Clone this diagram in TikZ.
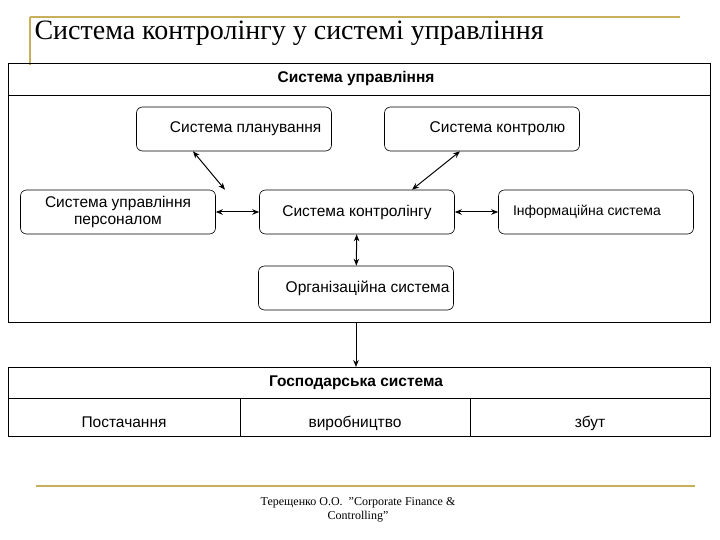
\documentclass[tikz,border=0pt]{standalone}
\usepackage{fontspec}
\setmainfont{Liberation Serif}
\newfontfamily\sansf{Liberation Sans}
\usepackage{xcolor}
\usetikzlibrary{arrows,arrows.meta,positioning,calc}
\definecolor{gold}{RGB}{200,175,90}
\tikzset{
  sys/.style={draw, rounded corners=6pt, line width=0.6pt, minimum width=195pt, minimum height=44pt, font=\sansf\fontsize{15.5}{17}\selectfont, align=center, inner sep=0pt},
  frame/.style={draw, line width=0.8pt},
  tip/.style={Stealth[length=7pt,width=5.5pt]},
  link/.style={line width=1pt, {Stealth[length=7pt,width=5.5pt]}-{Stealth[length=7pt,width=5.5pt]}},
  cell/.style={font=\sansf\fontsize{15.5}{17}\selectfont, anchor=base},
}
\begin{document}
\begin{tikzpicture}[x=1pt,y=-1pt]
    \useasboundingbox (0,0) rectangle (720,540);
    % title with gold rules
    \draw[gold, line width=1.5pt] (30,17) -- (680,17);
    \draw[gold, line width=1.5pt] (30,17) -- (30,65);
    \node[anchor=west, font=\fontsize{28}{30}\selectfont] (title) at (31,33) {Система контролінгу у системі управління};

    % management system frame
    \node[frame, minimum width=702pt, minimum height=259pt, anchor=north west] (mgmt) at (8,63) {};
    \draw[line width=0.8pt] (8,95) -- (710,95);
    \node[font=\sansf\bfseries\fontsize{15.5}{17}\selectfont] (mgmtT) at (356,78) {Система управління};

    \node[sys] (plan) at (234,129) {\hspace*{1.5em}Система планування};
    \node[sys] (ctrl) at (482,129) {\hspace*{2em}Система контролю};
    \node[sys] (pers) at (118,212) {Система управління\\персоналом};
    \node[sys] (cont) at (357,212) {Система контролінгу};
    \node[sys, font=\sansf\fontsize{14}{16}\selectfont] (info) at (596,212) {Інформаційна система\hspace*{1.3em}};
    \node[sys] (org) at (356,288) {\hspace*{1.5em}Організаційна система};

    \draw[link] ([xshift=-41pt]plan.south) -- ([xshift=-132pt]cont.north);
    \draw[link] ([xshift=-22pt]ctrl.south) -- ([xshift=55pt]cont.north);
    \draw[link] (pers) -- (cont);
    \draw[link] (cont) -- (info);
    \draw[link] (cont) -- (org);

    % economic system table
    \node[frame, minimum width=702pt, minimum height=69pt, anchor=north west] (econ) at (8,367) {};
    \draw[line width=0.8pt] (8,398) -- (710,398);
    \draw[line width=0.8pt] (240,398) -- (240,436);
    \draw[line width=0.8pt] (470,398) -- (470,436);
    \node[font=\sansf\bfseries\fontsize{15.5}{17}\selectfont] (econT) at (356,383) {Господарська система};
    \node[cell] (supply) at (124,427) {Постачання};
    \node[cell] (prod) at (355,427) {виробництво};
    \node[cell] (sales) at (590,427) {збут};

    \draw[line width=1pt, -{Stealth[length=7pt,width=5.5pt]}] (org.south |- mgmt.south) -- (org.south |- econ.north);

    % footer
    \draw[gold, line width=2.5pt] (36,486) -- (695,486);
    \node[align=center, font=\fontsize{12}{14}\selectfont] (foot) at (358,510) {Терещенко О.О.\ \ "Corporate Finance \&\\Controlling"};
\end{tikzpicture}
\end{document}
